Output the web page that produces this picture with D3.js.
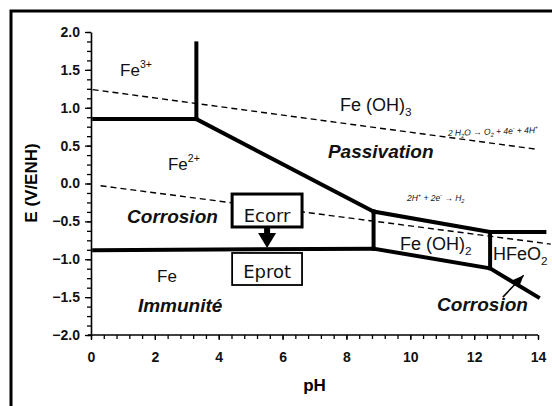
<!DOCTYPE html>
<html>
<head>
<meta charset="utf-8">
<script src="https://cdn.jsdelivr.net/npm/d3@7"></script>
<style>
  html, body { margin: 0; padding: 0; background: #fff; }
  svg { display: block; font-family: "Liberation Sans", Arial, sans-serif; }
</style>
</head>
<body>
<svg id="chart" width="552" height="406"></svg>
<script>
// ---- Data (pH, E in V/ENH) ----
const xTickLabels = [0, 2, 4, 6, 8, 10, 12, 14];
const yTickLabels = [2.0, 1.5, 1.0, 0.5, 0.0, -0.5, -1.0, -1.5, -2.0];

// stability boundaries
const fe3Fe2Line   = [[0.1, 0.85], [3.3, 0.85]];
const fe3Vertical  = [[3.3, 1.85], [3.3, 0.85]];
const fe2FeOH3Line = [[3.3, 0.85], [8.85, -0.37]];
const feFe2Line    = [[0.1, -0.88], [8.85, -0.86]];
const fe2FeOH2Line = [[8.85, -0.37], [8.85, -0.86]];
const feOH2Upper   = [[8.85, -0.37], [12.5, -0.64], [14.2, -0.64]];
const feOH2Lower   = [[8.85, -0.86], [12.5, -1.12], [14.0, -1.5]];
const hFeO2Line    = [[12.5, -0.64], [12.5, -1.12]];

// water stability lines (dashed)
const o2Line = [[0.05, 1.24], [14.0, 0.45]];
const h2Line = [[0.3, -0.03], [14.4, -0.80]];

// ---- Layout ----
const svg = d3.select("#chart");
const x = d3.scaleLinear().domain([0, 14]).range([91, 538]);
const y = d3.scaleLinear().domain([-2, 2]).range([335, 32]);

// outer frame (cropped on right/bottom)
svg.append("rect").attr("x", 11).attr("y", 11).attr("width", 620).attr("height", 520)
  .attr("fill", "none").attr("stroke", "#000").attr("stroke-width", 3);

// axes: minor ticks
const xMinor = d3.range(0, 14.001, 0.4);
const yMinor = d3.range(-2, 2.001, 0.125);

const gx = svg.append("g").attr("transform", `translate(0,${y(-2)})`)
  .call(d3.axisBottom(x).tickValues(xMinor).tickSize(4).tickSizeOuter(0).tickFormat(""));
const gy = svg.append("g").attr("transform", `translate(${x(0)},0)`)
  .call(d3.axisLeft(y).tickValues(yMinor).tickSize(4).tickSizeOuter(0).tickFormat(""));
[gx, gy].forEach(g => {
  g.select(".domain").attr("stroke-width", 1.6);
  g.selectAll(".tick line").attr("stroke-width", 1.3);
});
gx.select(".domain").attr("d", `M${x(0)-3},0H${x(14)}`);

// labelled axes
const gxl = svg.append("g").attr("transform", `translate(0,${y(-2)})`)
  .call(d3.axisBottom(x).tickValues(xTickLabels).tickSize(5).tickPadding(12).tickFormat(d3.format("d")));
const gyl = svg.append("g").attr("transform", `translate(${x(0)},0)`)
  .call(d3.axisLeft(y).tickValues(yTickLabels).tickSize(6).tickPadding(5).tickFormat(d3.format(".1f")));
[gxl, gyl].forEach(g => {
  g.select(".domain").remove();
  g.selectAll(".tick line").attr("stroke-width", 1.3);
  g.selectAll(".tick text").attr("font-size", 14).attr("font-weight", "bold")
    .attr("font-family", "Liberation Sans, Arial, sans-serif").attr("fill", "#111");
});

// axis titles
svg.append("text").attr("transform", `translate(37,${183}) rotate(-90)`)
  .attr("text-anchor", "middle").attr("font-size", 17).attr("font-weight", "bold")
  .text("E (V/ENH)");
svg.append("text").attr("x", x(7)).attr("y", 391).attr("text-anchor", "middle")
  .attr("font-size", 17).attr("font-weight", "bold").text("pH");

const line = d3.line().x(d => x(d[0])).y(d => y(d[1]));

// dashed water lines
[o2Line, h2Line].forEach(d => {
  svg.append("path").attr("d", line(d)).attr("fill", "none").attr("stroke", "#000")
    .attr("stroke-width", 1.4).attr("stroke-dasharray", "6,4");
});

// boundary lines
[fe3Fe2Line, fe3Vertical, fe2FeOH3Line, feFe2Line, fe2FeOH2Line, feOH2Upper, feOH2Lower, hFeO2Line].forEach(d => {
  svg.append("path").attr("d", line(d)).attr("fill", "none").attr("stroke", "#000")
    .attr("stroke-width", 4).attr("stroke-linejoin", "miter").attr("stroke-linecap", "square");
});

// ---- labels ----
// parts: {t, sup|sub}; baseline shifts are tracked so each part returns to the base line
function label(pH, E, parts, opts = {}) {
  const size = opts.size || 17;
  const t = svg.append("text").attr("x", x(pH)).attr("y", y(E))
    .attr("font-size", size)
    .attr("font-weight", opts.weight || "normal")
    .attr("font-style", opts.style || "normal")
    .attr("fill", "#111");
  let shift = 0;
  parts.forEach(p => {
    const s = t.append("tspan").text(p.t);
    let target = 0;
    if (p.sup) { target = -size * 0.45; s.attr("font-size", size * 0.62); }
    if (p.sub) { target = size * 0.25; s.attr("font-size", size * 0.65); }
    if (target !== shift) s.attr("dy", target - shift);
    shift = target;
  });
  return t;
}
label(0.91, 1.42, [{t: "Fe"}, {t: "3+", sup: true}]);
label(2.41, 0.18, [{t: "Fe"}, {t: "2+", sup: true}]);
label(7.80, 0.957, [{t: "Fe (OH)"}, {t: "3", sub: true}], {size: 18});
label(7.42, 0.337, [{t: "Passivation"}], {size: 19, weight: "bold", style: "italic"});
label(1.13, -0.52, [{t: "Corrosion"}], {size: 19, weight: "bold", style: "italic"});
label(2.07, -1.30, [{t: "Fe"}]);
label(1.47, -1.70, [{t: "Immunité"}], {size: 19, weight: "bold", style: "italic"});
label(9.68, -0.878, [{t: "Fe (OH)"}, {t: "2", sub: true}], {size: 18});
label(12.59, -1.01, [{t: "HFeO"}, {t: "2", sub: true}], {size: 18});
label(10.84, -1.68, [{t: "Corrosion"}], {size: 19, weight: "bold", style: "italic"});

// equations
label(11.18, 0.627, [{t: "2 H"}, {t: "2", sub: true}, {t: "O → O"}, {t: "2", sub: true},
  {t: " + 4e"}, {t: "-", sup: true}, {t: " + 4H"}, {t: "+", sup: true}],
  {size: 8.5, style: "italic"}).attr("transform", `rotate(-2 ${x(11.18)} ${y(0.627)})`);
label(9.90, -0.23, [{t: "2H"}, {t: "+", sup: true}, {t: " + 2e"}, {t: "-", sup: true},
  {t: " → H"}, {t: "2", sub: true}], {size: 8.5, style: "italic"});

// Ecorr / Eprot boxes
const boxL = 4.42, boxR = 6.61, boxC = (boxL + boxR) / 2;
svg.append("rect").attr("x", x(boxL)).attr("y", y(-0.139))
  .attr("width", x(boxR) - x(boxL)).attr("height", y(-0.574) - y(-0.139))
  .attr("fill", "#fff").attr("stroke", "#000").attr("stroke-width", 3);
svg.append("text").attr("x", x(boxC)).attr("y", y(-0.51)).attr("text-anchor", "middle")
  .attr("font-family", "DejaVu Sans, sans-serif").attr("font-size", 18).attr("fill", "#111")
  .text("Ecorr");
svg.append("rect").attr("x", x(boxL)).attr("y", y(-0.917))
  .attr("width", x(boxR) - x(boxL)).attr("height", y(-1.34) - y(-0.917))
  .attr("fill", "#fff").attr("stroke", "#000").attr("stroke-width", 1.8);
svg.append("text").attr("x", x(boxC)).attr("y", y(-1.25)).attr("text-anchor", "middle")
  .attr("font-family", "DejaVu Sans, sans-serif").attr("font-size", 18).attr("fill", "#111")
  .text("Eprot");

// Ecorr arrow
const ax = x(boxC), ay0 = y(-0.574), ayTip = y(-0.85);
svg.append("rect").attr("x", ax - 3).attr("y", ay0).attr("width", 6).attr("height", 8).attr("fill", "#000");
svg.append("path").attr("d", `M${ax-9},${ay0+6}L${ax+9},${ay0+6}L${ax},${ayTip}Z`).attr("fill", "#000");

// Corrosion arrow (right)
const c0 = [x(12.9), y(-1.50)], c1 = [x(13.55), y(-1.21)];
const ang = Math.atan2(c1[1] - c0[1], c1[0] - c0[0]);
svg.append("line").attr("x1", c0[0]).attr("y1", c0[1]).attr("x2", c1[0]).attr("y2", c1[1])
  .attr("stroke", "#000").attr("stroke-width", 1.5);
const hl = 12, hw = 5;
const bx = c1[0] - hl * Math.cos(ang), by = c1[1] - hl * Math.sin(ang);
svg.append("path").attr("d",
  `M${c1[0]},${c1[1]}L${bx + hw*Math.sin(ang)},${by - hw*Math.cos(ang)}L${bx - hw*Math.sin(ang)},${by + hw*Math.cos(ang)}Z`)
  .attr("fill", "#000");
</script>
</body>
</html>
